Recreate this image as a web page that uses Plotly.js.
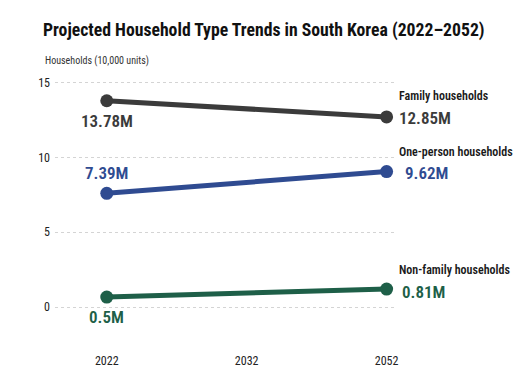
<!DOCTYPE html>
<html>
<head>
<meta charset="utf-8">
<script src="https://cdn.plot.ly/plotly-3.0.1.min.js"></script>
<style>
html,body{margin:0;padding:0;background:#fff;}
#chart{width:530px;height:390px;}
text{font-stretch:75% !important;}
</style>
</head>
<body>
<div id="chart"></div>
<script>
const years = ['2022', '2032', '2052'];
const pointYears = ['2022', '2052'];
const seriesNames = ['Family households', 'One-person households', 'Non-family households'];
const familyValues = [13.78, 12.7];
const onePersonValues = [7.6, 9.05];
const nonFamilyValues = [0.67, 1.2];
const familyLabels = ['13.78M', '12.85M'];
const onePersonLabels = ['7.39M', '9.62M'];
const nonFamilyLabels = ['0.5M', '0.81M'];
const yTicks = [0, 5, 10, 15];

const FONT = 'Roboto, sans-serif';
const colors = ['#3b3b3b', '#2f4b91', '#1e5f48'];
const values = [familyValues, onePersonValues, nonFamilyValues];
const labels = [familyLabels, onePersonLabels, nonFamilyLabels];
const firstDir = [-1, 1, -1];
const endShift = [10, 16, 13];
const endYShift = [-1, -1, -3];
const nameYShift = [21, 20, 19];
const xIdx = pointYears.map(y => years.indexOf(y));

const traces = values.map((v, i) => ({
  type: 'scatter', mode: 'lines+markers',
  x: pointYears, y: v, name: seriesNames[i],
  line: {color: colors[i], width: 5},
  marker: {color: colors[i], size: 13},
  hoverinfo: 'skip', showlegend: false, cliponaxis: false
}));

const annotations = [];
values.forEach((v, i) => {
  annotations.push({
    x: xIdx[0], y: v[0], xref: 'x', yref: 'y', text: labels[i][0],
    showarrow: false, xanchor: 'center',
    yanchor: firstDir[i] < 0 ? 'top' : 'bottom', yshift: firstDir[i] < 0 ? -8 : 8,
    font: {family: FONT, size: 17, color: colors[i], weight: 600}
  });
  annotations.push({
    x: xIdx[1], y: v[1], xref: 'x', yref: 'y', text: labels[i][1],
    showarrow: false, xanchor: 'left', yanchor: 'middle', xshift: endShift[i], yshift: endYShift[i],
    font: {family: FONT, size: 17, color: colors[i], weight: 600}
  });
  annotations.push({
    x: xIdx[1], y: v[1], xref: 'x', yref: 'y', text: seriesNames[i],
    showarrow: false, xanchor: 'left', yanchor: 'middle', xshift: 10, yshift: nameYShift[i],
    font: {family: FONT, size: 12, color: '#1a1a1a', weight: 600}
  });
});
annotations.push({
  x: 0, xshift: -12, y: 1, yshift: 14,
  xref: 'paper', yref: 'paper', text: 'Households (10,000 units)',
  showarrow: false, xanchor: 'left', yanchor: 'middle',
  font: {family: FONT, size: 10, color: '#333'}
});

const layout = {
  width: 530, height: 390,
  margin: {l: 55, r: 135, t: 75, b: 38},
  paper_bgcolor: '#fff', plot_bgcolor: '#fff',
  title: {
    text: 'Projected Household Type Trends in South Korea (2022–2052)',
    xref: 'container', yref: 'container', x: 43 / 530, xanchor: 'left',
    y: 1 - 30 / 390, yanchor: 'middle',
    font: {family: FONT, size: 17.7, color: '#111', weight: 'bold'}
  },
  xaxis: {
    type: 'category', categoryorder: 'array', categoryarray: years,
    tickvals: years, ticktext: years,
    range: [-0.37, 2.06], showgrid: false, zeroline: false, showline: false, ticks: '',
    tickfont: {family: FONT, size: 12, color: '#222'}, fixedrange: true
  },
  yaxis: {
    range: [-3, 15.5], tickvals: yTicks, ticktext: yTicks.map(String),
    showgrid: true, gridcolor: '#d4d4d4', griddash: 'dot', gridwidth: 1,
    zeroline: false, showline: false, ticks: '', ticklabelstandoff: 4,
    tickfont: {family: FONT, size: 12, color: '#222'}, fixedrange: true
  },
  annotations: annotations,
  showlegend: false
};

Plotly.newPlot('chart', traces, layout, {displayModeBar: false, staticPlot: true});
</script>
</body>
</html>
